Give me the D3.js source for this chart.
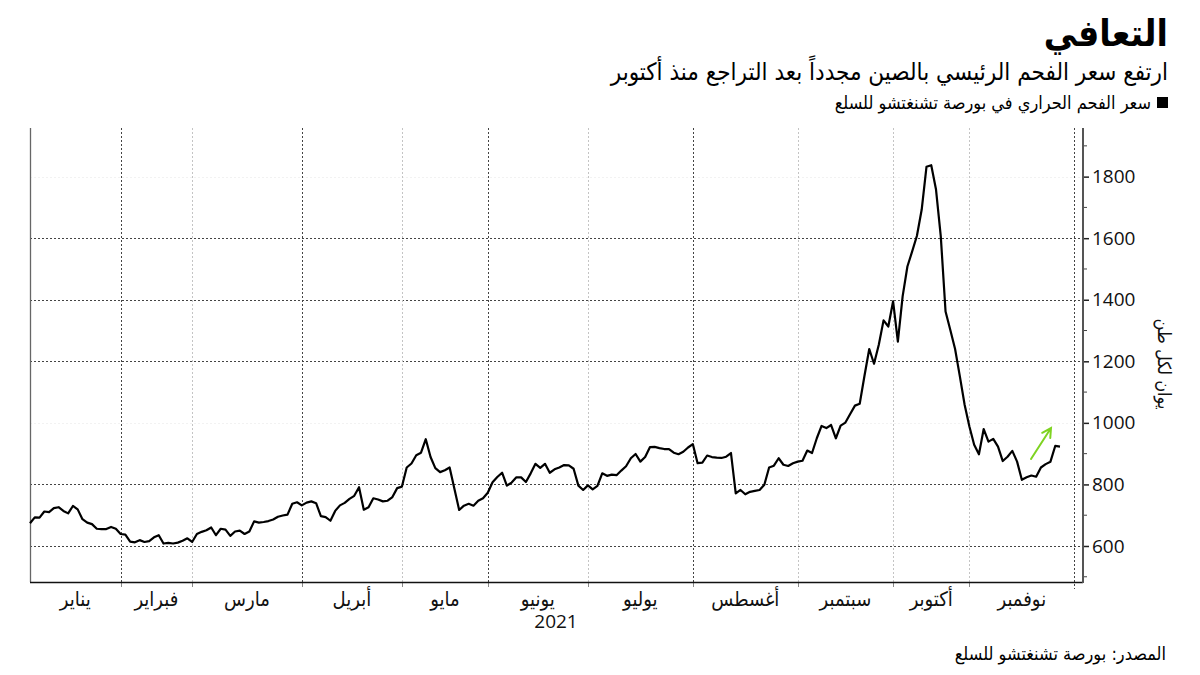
<!DOCTYPE html>
<html><head><meta charset="utf-8">
<script src="https://cdn.jsdelivr.net/npm/d3@7"></script>
<style>
html,body{margin:0;padding:0;background:#fff;}
svg{display:block;}
.ar{font-family:"DejaVu Sans Condensed","DejaVu Sans",sans-serif;}
</style></head>
<body>
<svg id="chart" width="1200" height="675"></svg>
<script>
// ---- data ----
const titleText = "التعافي";
const subtitleText = "ارتفع سعر الفحم الرئيسي بالصين مجدداً بعد التراجع منذ أكتوبر";
const legendText = "سعر الفحم الحراري في بورصة تشنغتشو للسلع";
const sourceText = "المصدر: بورصة تشنغتشو للسلع";
const yLabelText = "يوان لكل طن";
const yearLabel = "2021";
const months = ["يناير","فبراير","مارس","أبريل","مايو","يونيو","يوليو","أغسطس","سبتمبر","أكتوبر","نوفمبر"];
const monthTradingDays = [19,15,23,21,18,21,22,22,20,16,22];
const yTicks = [600,800,1000,1200,1400,1600,1800];
const yMinorTicks = [500,700,900,1100,1300,1500,1700,1900];
const price = [
674,693,692,712,710,723,726,714,706,730,719,687,676,671,656,655,655,662,656,
639,637,614,612,619,613,616,628,635,608,610,608,611,617,625,
613,639,646,651,660,635,656,653,633,647,650,639,647,680,676,678,681,686,695,699,702,737,742,
732,741,745,739,697,694,682,714,732,740,753,763,791,718,726,755,751,745,747,759,788,
793,855,868,895,903,947,889,853,840,846,855,786,717,731,737,731,747,755,
773,807,824,838,796,806,823,823,808,836,867,854,867,838,849,855,863,862,851,796,782,
797,784,795,836,828,832,830,845,859,885,899,874,889,921,922,918,915,915,903,898,906,920,
931,869,871,894,889,887,886,890,902,771,782,768,776,779,782,799,855,861,885,864,860,869,
874,877,910,902,950,990,983,993,950,991,1001,1029,1056,1062,1153,1240,1192,1254,1333,1313,
1395,1264,1411,1508,1557,1608,1693,1832,1837,1758,1606,1362,1302,1240,1151,1059,
988,929,898,980,939,948,923,876,890,909,874,815,823,829,825,855,866,874,925,923
];

// ---- layout ----
const svg = d3.select("#chart");
svg.append("rect").attr("width",1200).attr("height",675).attr("fill","#fff");
const totalDays = d3.sum(monthTradingDays);
const x = d3.scaleLinear().domain([0,totalDays]).range([30,1074.3]);
const y = d3.scaleLinear().domain([483,1958]).range([582,128]);
const axisX = 1083;
const bounds = [0, ...Array.from(d3.cumsum(monthTradingDays))];

// horizontal gridlines
const g = svg.append("g");
g.selectAll("line.hg").data(yTicks).join("line")
  .attr("x1",30).attr("x2",axisX)
  .attr("y1",d=>Math.round(y(d))+0.5).attr("y2",d=>Math.round(y(d))+0.5)
  .attr("stroke",d=>(d===1000||d===1800)?"#f2f2f2":"#444")
  .attr("stroke-width",1).attr("stroke-dasharray","2,2");

// vertical gridlines at month boundaries
const darkBounds = new Set([0,2,4,6,10]);
const vb = bounds.slice(1);
g.selectAll("line.vg").data(vb).join("line")
  .attr("x1",d=>Math.round(x(d))+0.5).attr("x2",d=>Math.round(x(d))+0.5)
  .attr("y1",128).attr("y2",(d,i)=>i===vb.length-1?589:582)
  .attr("stroke",(d,i)=>darkBounds.has(i)?"#444":"#c4c4c4")
  .attr("stroke-width",1).attr("stroke-dasharray","2,2");

// month ticks
g.selectAll("line.mt").data(bounds.slice(1,-1)).join("line")
  .attr("x1",d=>Math.round(x(d))+0.5).attr("x2",d=>Math.round(x(d))+0.5)
  .attr("y1",582).attr("y2",587).attr("stroke","#888").attr("stroke-width",1);

// left axis line
svg.append("line").attr("x1",30.5).attr("x2",30.5).attr("y1",128).attr("y2",582)
  .attr("stroke","#666").attr("stroke-width",1.3);
// bottom axis
svg.append("line").attr("x1",30).attr("x2",axisX).attr("y1",582.5).attr("y2",582.5)
  .attr("stroke","#111").attr("stroke-width",1.4);

// right axis
const yAxis = svg.append("g").attr("transform",`translate(${axisX},0)`)
  .call(d3.axisRight(y).tickValues(yTicks).tickSize(6).tickPadding(3).tickFormat(d3.format("d")));
yAxis.select(".domain").remove();
yAxis.selectAll(".tick line").attr("stroke","#222").attr("stroke-width",1.5);
yAxis.selectAll(".tick text").attr("font-family","'Open Sans','Noto Sans',sans-serif")
  .attr("font-size",19).attr("fill","#111");
svg.append("g").selectAll("line").data(yMinorTicks).join("line")
  .attr("x1",axisX).attr("x2",axisX+4)
  .attr("y1",d=>y(d)).attr("y2",d=>y(d)).attr("stroke","#444").attr("stroke-width",1);
svg.append("line").attr("x1",axisX).attr("x2",axisX).attr("y1",128).attr("y2",583)
  .attr("stroke","#555").attr("stroke-width",2);

// month labels
svg.append("g").selectAll("text").data(months).join("text")
  .attr("class","ar")
  .attr("x",(d,i)=>(x(bounds[i])+x(bounds[i+1]))/2)
  .attr("y",606).attr("text-anchor","middle").attr("font-size",20).attr("fill","#111")
  .text(d=>d);
svg.append("text").attr("x",556).attr("y",628).attr("text-anchor","middle")
  .attr("font-family","'Open Sans','Noto Sans',sans-serif").attr("font-size",19).attr("fill","#111")
  .text(yearLabel);

// line
const line = d3.line().x((d,i)=>x(i)).y(d=>y(d));
svg.append("path").datum(price).attr("d",line).attr("fill","none")
  .attr("stroke","#000").attr("stroke-width",2.2).attr("stroke-linejoin","round");

// green arrow
const ax1=1031, ay1=459, ax2=1051, ay2=428;
const ang = Math.atan2(ay2-ay1, ax2-ax1);
const hl = 10;
svg.append("path")
  .attr("d",`M${ax1},${ay1}L${ax2},${ay2}M${ax2-hl*Math.cos(ang-0.5)},${ay2-hl*Math.sin(ang-0.5)}L${ax2},${ay2}L${ax2-hl*Math.cos(ang+0.5)},${ay2-hl*Math.sin(ang+0.5)}`)
  .attr("fill","none").attr("stroke","#7ed321").attr("stroke-width",2).attr("stroke-linecap","round");

// y label
svg.append("text").attr("class","ar")
  .attr("transform","translate(1158,364) rotate(90)")
  .attr("text-anchor","middle").attr("font-size",18).attr("fill","#111").text(yLabelText);

// titles
svg.append("text").attr("class","ar").attr("direction","rtl")
  .attr("x",1168).attr("y",46).attr("text-anchor","start")
  .attr("font-size",37).attr("font-weight","bold").attr("fill","#000").text(titleText);
svg.append("text").attr("class","ar").attr("direction","rtl")
  .attr("x",1168).attr("y",80).attr("text-anchor","start")
  .attr("font-size",24).attr("fill","#000").text(subtitleText);
svg.append("rect").attr("x",1157).attr("y",97).attr("width",11).attr("height",11).attr("fill","#000");
svg.append("text").attr("class","ar").attr("direction","rtl")
  .attr("x",1151).attr("y",109).attr("text-anchor","start")
  .attr("font-size",18).attr("fill","#000").text(legendText);
svg.append("text").attr("class","ar").attr("direction","rtl")
  .attr("x",1166).attr("y",660).attr("text-anchor","start")
  .attr("font-size",18).attr("fill","#000").text(sourceText);
</script>
</body></html>
